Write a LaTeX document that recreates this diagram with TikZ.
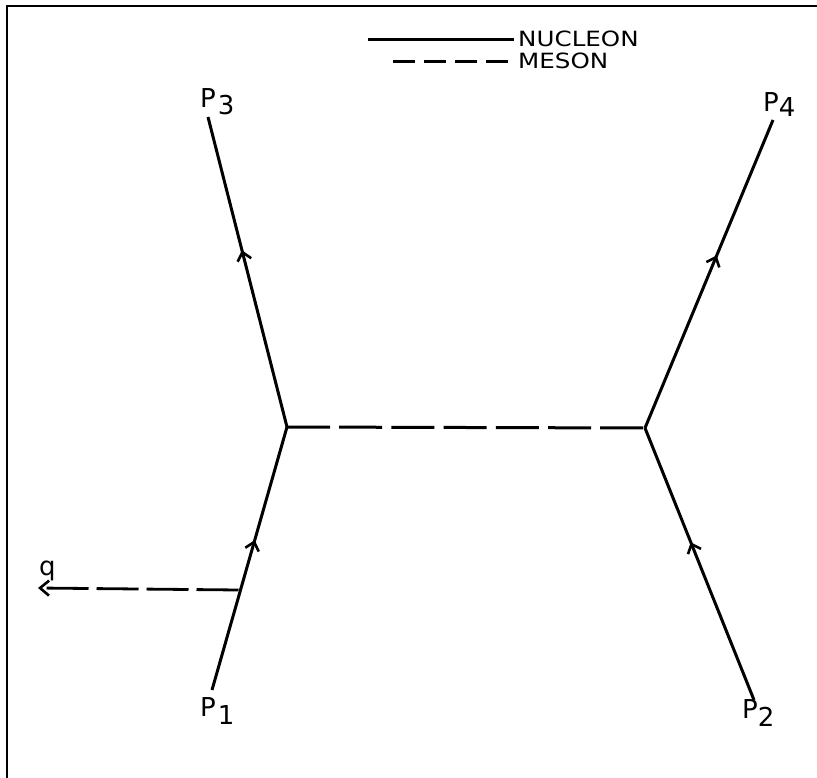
\documentclass[tikz,border=0pt]{standalone}
\usepackage{fontspec}
\setmainfont{DejaVu Sans}
\usetikzlibrary{arrows.meta,decorations.markings}
\tikzset{
  nucleon/.style={line width=3pt},
  midarrow/.style={postaction={decorate},decoration={markings,
      mark=at position #1 with {\arrow{Straight Barb[length=8pt,width=14pt,line width=2.6pt]}}}},
  meson/.style={line width=3pt, dash pattern=on 43pt off 9.2pt},
  qline/.style={line width=2.8pt, dash pattern=on 42pt off 8pt,
      -{Straight Barb[length=9pt,width=15pt,line width=2.6pt]}},
  legsolid/.style={line width=3pt},
  legdash/.style={line width=3pt, dash pattern=on 22pt off 9pt},
  frameline/.style={line width=2.6pt},
  lbl/.style={inner sep=0pt, anchor=base west, font=\fontsize{26}{30}\selectfont},
  leg/.style={inner sep=0pt, anchor=base west, font=\fontsize{21}{24}\selectfont, xscale=1.17},
}
\begin{document}
\begin{tikzpicture}[x=1pt,y=-1pt]
\useasboundingbox (0,0) rectangle (817,778);
% frame (top and left edges only)
\coordinate (fTR) at (817,6);
\coordinate (fTL) at (7,6);
\coordinate (fBL) at (7,778);
\draw[frameline] (fTR) -- (fTL) -- (fBL);
% vertices and endpoints
\coordinate (A) at (287,427);
\coordinate (B) at (645,428);
\coordinate (p3) at (208,117);
\coordinate (p4) at (773,120);
\coordinate (p1) at (212,690);
\coordinate (p2) at (754,700);
\coordinate (qv) at (238.5,590);
\coordinate (qend) at (38,588);
% nucleon lines
\draw[nucleon,midarrow=0.57] (A) -- (p3);
\draw[nucleon,midarrow=0.56] (B) -- (p4);
\draw[nucleon,midarrow=0.57] (p1) -- (A);
\draw[nucleon,midarrow=0.58] (p2) -- (B);
% meson lines
\draw[meson] (A) -- (B);
\draw[qline] (qv) -- (qend);
% labels
\node[lbl] (L3) at (200,108) {P\kern2pt\raisebox{-7pt}{3}};
\node[lbl] (L4) at (763,112) {P\kern0pt\raisebox{-5pt}{4}};
\node[lbl] (L1) at (200,716) {P\kern2pt\raisebox{-8pt}{1}};
\node[lbl] (L2) at (742,718) {P\kern0pt\raisebox{-8pt}{2}};
\node[lbl] (Lq) at (39,575) {q};
% legend
\coordinate (n1) at (368,40);
\coordinate (n2) at (514,40);
\coordinate (m1) at (393,62);
\coordinate (m2) at (514,62);
\draw[legsolid] (n1) -- (n2);
\draw[legdash] (m1) -- (m2);
\node[leg] (NUC) at (518,47) {NUCLEON};
\node[leg] (MES) at (518,69) {MESON};
\end{tikzpicture}
\end{document}
